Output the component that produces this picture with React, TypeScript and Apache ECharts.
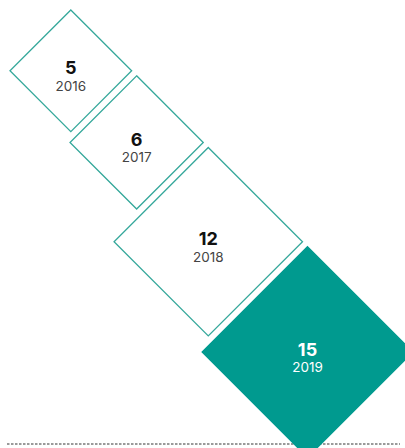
import React, { useEffect, useRef } from "react";
import * as echarts from "echarts";

const years: string[] = ["2016", "2017", "2018", "2019"];
const values: number[] = [5, 6, 12, 15];

const TEAL = "#009a8f";
const OUTLINE = "#35a89b";
const WIDTH = 405;
const HEIGHT = 448;
const SIZE_K = 27.2; // half-diagonal per sqrt(value)
const GAP = 5;
const ORIGIN = 10;

function layout() {
  const rows: number[][] = [];
  let cx = 0;
  let cy = 0;
  values.forEach((v, i) => {
    const r = SIZE_K * Math.sqrt(v);
    if (i === 0) {
      cx = ORIGIN + r;
      cy = ORIGIN + r;
    } else {
      const prevR = rows[i - 1][2];
      cx = rows[i - 1][0] + prevR + GAP;
      cy = rows[i - 1][1] + r + GAP;
    }
    rows.push([cx, cy, r, v, i]);
  });
  return rows;
}

export default function App() {
  const ref = useRef<HTMLDivElement>(null);
  useEffect(() => {
    if (!ref.current) return;
    const chart = echarts.init(ref.current, null, { renderer: "svg" });
    const maxV = Math.max(...values);
    chart.setOption({
      animation: false,
      grid: { left: 0, right: 0, top: 0, bottom: 0 },
      xAxis: { type: "value", min: 0, max: WIDTH, show: false },
      yAxis: { type: "value", min: 0, max: HEIGHT, inverse: true, show: false },
      graphic: [
        {
          type: "line",
          z: -10,
          shape: { x1: 7, y1: 444, x2: 400, y2: 444 },
          style: { stroke: "#9a9a9a", lineWidth: 2, lineDash: [2.5, 1.5] },
        },
      ],
      series: [
        {
          type: "custom",
          clip: false,
          z: 5,
          data: layout(),
          renderItem: (params: any, api: any) => {
            const cx = api.value(0);
            const cy = api.value(1);
            const r = api.value(2);
            const v = api.value(3);
            const i = api.value(4);
            const pts = [
              [cx, cy - r],
              [cx + r, cy],
              [cx, cy + r],
              [cx - r, cy],
            ].map((p) => api.coord(p));
            const c = api.coord([cx, cy]);
            const hi = v === maxV;
            return {
              type: "group",
              children: [
                {
                  type: "polygon",
                  shape: { points: pts },
                  style: {
                    fill: hi ? TEAL : "#ffffff",
                    stroke: hi ? TEAL : OUTLINE,
                    lineWidth: 1.3,
                  },
                },
                {
                  type: "text",
                  x: c[0],
                  y: c[1] - 3,
                  style: {
                    text: String(v),
                    fill: hi ? "#ffffff" : "#111111",
                    fontSize: 18,
                    fontWeight: "bold",
                    fontFamily: "Inter",
                    align: "center",
                    verticalAlign: "middle",
                  },
                },
                {
                  type: "text",
                  x: c[0],
                  y: c[1] + 15,
                  style: {
                    text: years[i],
                    fill: hi ? "#ffffff" : "#444444",
                    fontSize: 13.5,
                    fontFamily: "Inter",
                    align: "center",
                    verticalAlign: "middle",
                  },
                },
              ],
            };
          },
        },
      ],
    });
    return () => chart.dispose();
  }, []);
  return (
    <div
      ref={ref}
      style={{ position: "absolute", left: 0, top: 0, width: WIDTH, height: HEIGHT }}
    />
  );
}
